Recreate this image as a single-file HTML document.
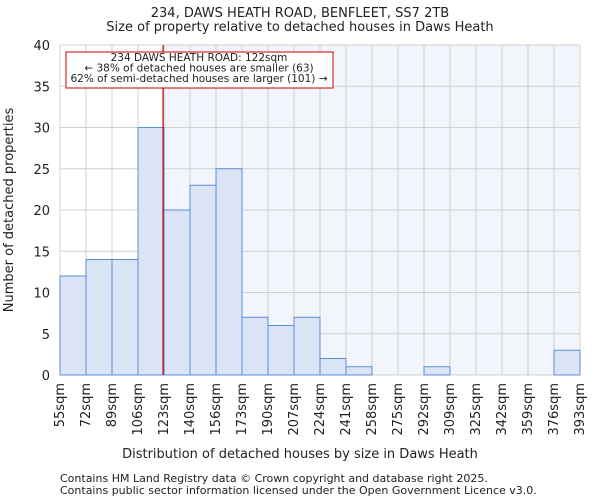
<!DOCTYPE html>
<html><head><meta charset="utf-8"><style>
body{margin:0;background:#fff;font-family:"DejaVu Sans","Liberation Sans",sans-serif}
svg text{font-family:"DejaVu Sans","Liberation Sans",sans-serif;fill:#222}
</style></head><body>
<svg width="600" height="500" id="c">
<text x="300" y="17" font-size="13" text-anchor="middle">234, DAWS HEATH ROAD, BENFLEET, SS7 2TB</text>
<text x="300" y="31" font-size="13" text-anchor="middle">Size of property relative to detached houses in Daws Heath</text>
<text x="300" y="458" font-size="13" text-anchor="middle">Distribution of detached houses by size in Daws Heath</text>
<text transform="translate(13,210) rotate(-90)" font-size="13" text-anchor="middle">Number of detached properties</text>
<text x="60" y="482" font-size="11">Contains HM Land Registry data © Crown copyright and database right 2025.</text>
<text x="60" y="494" font-size="11">Contains public sector information licensed under the Open Government Licence v3.0.</text>
</svg>
<script>
const binLabels=["55sqm","72sqm","89sqm","106sqm","123sqm","140sqm","156sqm","173sqm","190sqm","207sqm","224sqm","241sqm","258sqm","275sqm","292sqm","309sqm","325sqm","342sqm","359sqm","376sqm","393sqm"];
const counts=[12,14,14,30,20,23,25,7,6,7,2,1,0,0,1,0,0,0,0,3];
const yTicks=[0,5,10,15,20,25,30,35,40];
const propertySize=122;
const binStart=55, binEnd=393;
const L=60,R=580,T=45,B=375,yMax=40;
const svg=document.getElementById('c');
const NS='http://www.w3.org/2000/svg';
const bw=(R-L)/counts.length;
const xs=i=>L+i*bw;
const xv=v=>L+(v-binStart)/(binEnd-binStart)*(R-L);
const ys=v=>B-v/yMax*(B-T);
function mk(t,a){const e=document.createElementNS(NS,t);for(const k in a)e.setAttribute(k,a[k]);svg.appendChild(e);return e;}
const rx=xv(propertySize);
let e=mk('rect',{x:rx,y:T,width:R-rx,height:B-T,fill:'#f2f5fc'});


for(let i=0;i<=counts.length;i++){e=mk('line',{x1:xs(i),x2:xs(i),y1:T,y2:B,stroke:'#d0d0d0','stroke-width':1});

}
yTicks.forEach(v=>{e=mk('line',{x1:L,x2:R,y1:ys(v),y2:ys(v),stroke:'#d0d0d0','stroke-width':1});


const t=mk('text',{x:L-10,y:ys(v)+5,'font-size':13,'text-anchor':'end'});t.textContent=v;

});
counts.forEach((c,i)=>{if(c<=0)return;e=mk('rect',{x:xs(i),y:ys(c),width:bw,height:B-ys(c),fill:'#dae4f4',stroke:'#5b8ed8','stroke-width':1});

});
binLabels.forEach((l,i)=>{const x=xs(i)+4;const t=mk('text',{transform:`translate(${x},${B+8}) rotate(-90)`,'font-size':13,'text-anchor':'end'});t.textContent=l;

});
e=mk('line',{x1:rx,x2:rx,y1:T,y2:B,stroke:'#cc0000','stroke-width':1.2});


e=mk('rect',{x:66,y:52,width:267,height:36,fill:'#fff',stroke:'#cc0000','stroke-width':1});


["234 DAWS HEATH ROAD: 122sqm","← 38% of detached houses are smaller (63)","62% of semi-detached houses are larger (101) →"].forEach((s,i)=>{const t=mk('text',{x:199,y:61+i*10.5,'font-size':10.5,'text-anchor':'middle'});t.textContent=s;

});
</script>
</body></html>
